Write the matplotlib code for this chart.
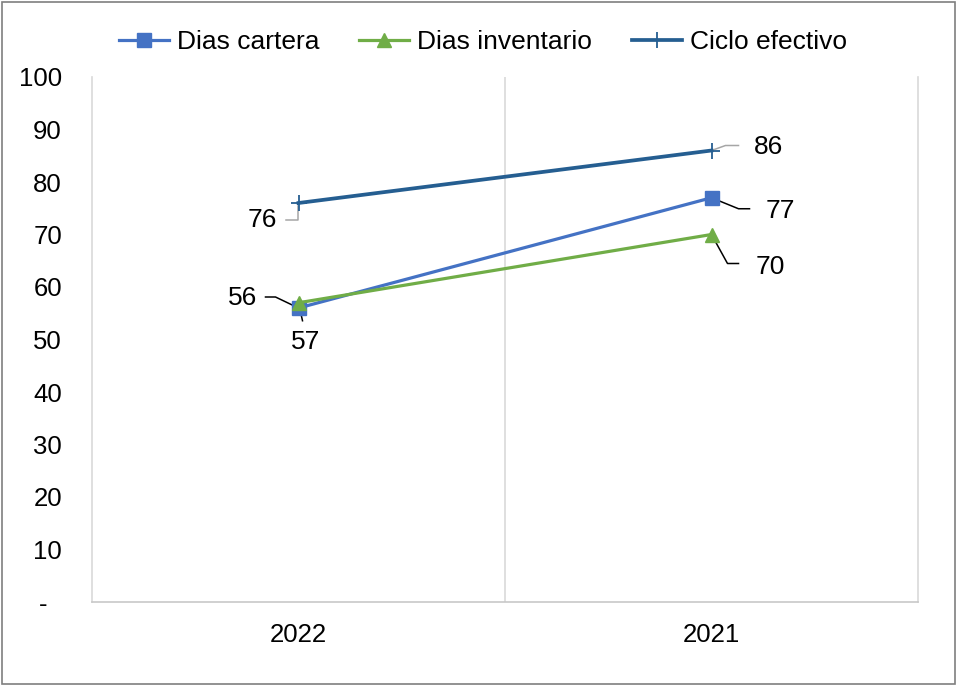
import matplotlib
matplotlib.use("Agg")
import matplotlib.pyplot as plt
from matplotlib.patches import Rectangle

plt.rcParams['font.family'] = ['Liberation Sans', 'DejaVu Sans']

# datos
years = ['2022', '2021']
dias_cartera = [56, 77]
dias_inventario = [57, 70]
ciclo_efectivo = [76, 86]
yticks = [0, 10, 20, 30, 40, 50, 60, 70, 80, 90, 100]
ytick_labels = ['-  ', '10', '20', '30', '40', '50', '60', '70', '80', '90', '100']

c_cartera = '#4472C4'
c_inv = '#70AD47'
c_ciclo = '#255E91'

fig = plt.figure(figsize=(9.57, 6.86), dpi=100)
ax = fig.add_axes([92/957, 1 - 602/686, 826/957, 525/686])
x = list(range(len(years)))

ax.plot(x, ciclo_efectivo, color=c_ciclo, lw=2.7, marker='+', ms=12, mew=1.3,
        label='Ciclo efectivo', zorder=3)
ax.plot(x, dias_cartera, color=c_cartera, lw=2.3, marker='s', ms=10.5,
        label='Dias cartera', zorder=3)
ax.plot(x, dias_inventario, color=c_inv, lw=2.3, marker='^', ms=10.5,
        label='Dias inventario', zorder=4)

ax.set_xlim(-0.5, len(years) - 0.5)
ax.set_ylim(0, 100)
ax.set_yticks(yticks)
ax.set_yticklabels(ytick_labels)
ax.set_xticks(x)
ax.set_xticklabels(years)
ax.tick_params(axis='y', length=0, pad=21.6, labelsize=18.5)
ax.tick_params(axis='x', length=0, pad=15, labelsize=18.5)
ax.axvline(0.5, color='#D9D9D9', lw=1.2, zorder=1)
for s in ['left', 'right']:
    ax.spines[s].set_color('#D9D9D9')
    ax.spines[s].set_linewidth(1.2)
ax.spines['bottom'].set_color('#C8C8C8')
ax.spines['bottom'].set_linewidth(1.2)
ax.spines['top'].set_visible(False)


def label(xi, yi, txt, txt_off, leader, color):
    # offsets en pixeles (y hacia abajo) respecto al punto
    px, py = ax.transData.transform((xi, yi))
    pts = [ax.transData.inverted().transform((px + dx, py - dy)) for dx, dy in leader]
    ax.plot([p[0] for p in pts], [p[1] for p in pts], color=color, lw=1.1,
            clip_on=False, zorder=2)
    tx, ty = ax.transData.inverted().transform((px + txt_off[0], py - txt_off[1]))
    ax.text(tx, ty, txt, fontsize=19, ha='center', va='center')


label(0, ciclo_efectivo[0], str(ciclo_efectivo[0]), (-36, 17),
      [(-1, 3), (-1, 17), (-13, 17)], '#A6A6A6')
label(1, ciclo_efectivo[1], str(ciclo_efectivo[1]), (57, -3),
      [(0, 0), (14, -5), (27, -5)], '#A6A6A6')
label(0, dias_cartera[0], str(dias_cartera[0]), (-56, -10),
      [(-33, -11), (-23, -11), (0, 0)], 'black')
label(1, dias_cartera[1], str(dias_cartera[1]), (69, 13),
      [(0, 0), (27, 11), (38, 11)], 'black')
label(0, dias_inventario[0], str(dias_inventario[0]), (7, 39),
      [(0, 0), (4, 18)], 'black')
label(1, dias_inventario[1], str(dias_inventario[1]), (59, 32),
      [(0, 0), (16, 29), (27, 29)], 'black')

h, l = ax.get_legend_handles_labels()
order = [1, 2, 0]
fig.legend([h[i] for i in order], [l[i] for i in order], loc='center',
           bbox_to_anchor=(483/957, 1 - 42/686), ncol=3, frameon=False,
           fontsize=19, handlelength=1.9, handletextpad=0.3, columnspacing=1.5)

fig.patches.append(Rectangle((2/957, 2/686), 953/957, 682/686, transform=fig.transFigure,
                             fill=False, edgecolor='#7F7F7F', lw=1.2))

fig.savefig('out.png', dpi=100)
